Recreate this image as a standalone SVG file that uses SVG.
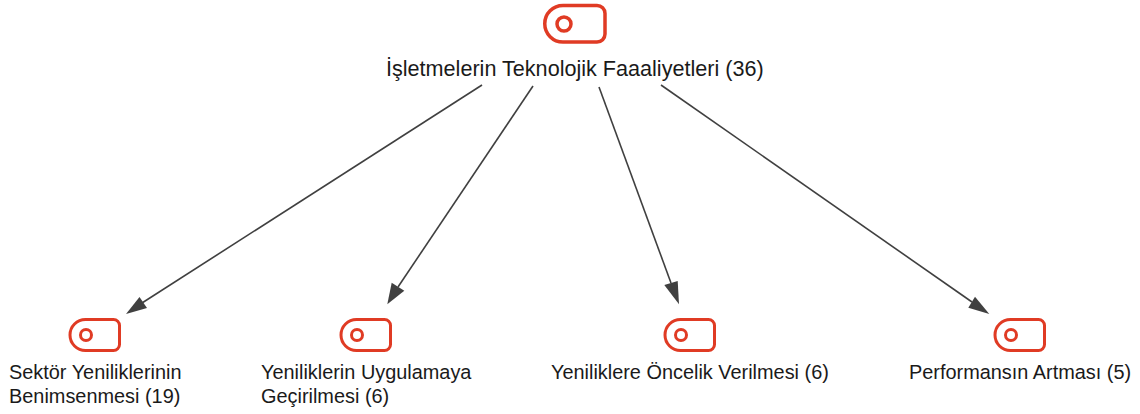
<svg xmlns="http://www.w3.org/2000/svg" width="1140" height="414" viewBox="0 0 1140 414">
<defs>
<style>
.shape{fill:none;stroke:#e03b24;stroke-width:3.5}
.small{stroke-width:3}
.lbl{font-family:"Liberation Sans",Arial,sans-serif;font-size:19.900px;fill:#1a1a1a}
.top{font-size:21.600px}
.conn{fill:none;stroke:#404040;stroke-width:1.6}
.head{fill:#404040}
</style>
</defs>
<rect width="1140" height="414" fill="#ffffff"/>
<g id="connectors">
<line class="conn" x1="482" y1="85" x2="142" y2="303"/>
<polygon class="head" points="126,314 139.500,297 147,308"/>
<line class="conn" x1="533" y1="86" x2="398" y2="287"/>
<polygon class="head" points="387.300,304.300 391.700,282.700 404.300,290.700"/>
<line class="conn" x1="599" y1="87" x2="671" y2="283"/>
<polygon class="head" points="679,304.300 664.300,285 677.700,281"/>
<line class="conn" x1="661" y1="85" x2="972" y2="302"/>
<polygon class="head" points="989.300,314 968.300,307.700 975,296.700"/>
</g>
<g id="root">
<path class="shape" d="M563 5.500H597A8 8 0 0 1 605 13.500V34A8 8 0 0 1 597 42H563A18.250 18.250 0 0 1 563 5.500Z"/>
<circle class="shape" cx="564" cy="24" r="7"/>
<text class="lbl top" x="386" y="75.500">İşletmelerin Teknolojik Faaaliyetleri (36)</text>
</g>
<g id="node1">
<path class="shape small" d="M85.500 319.500H113.500A6 6 0 0 1 119.500 325.500V344.500A6 6 0 0 1 113.500 350.500H85.500A15.500 15.500 0 0 1 85.500 319.500Z"/>
<circle class="shape small" cx="86" cy="335" r="5.500"/>
<text class="lbl" x="9" y="379">Sektör Yeniliklerinin</text>
<text class="lbl" x="9" y="403">Benimsenmesi (19)</text>
</g>
<g id="node2">
<path class="shape small" d="M356.500 319.500H384.500A6 6 0 0 1 390.500 325.500V344.500A6 6 0 0 1 384.500 350.500H356.500A15.500 15.500 0 0 1 356.500 319.500Z"/>
<circle class="shape small" cx="357" cy="335" r="5.500"/>
<text class="lbl" x="261" y="379">Yeniliklerin Uygulamaya</text>
<text class="lbl" x="261" y="403">Geçirilmesi (6)</text>
</g>
<g id="node3">
<path class="shape small" d="M680.500 319.500H708.500A6 6 0 0 1 714.500 325.500V344.500A6 6 0 0 1 708.500 350.500H680.500A15.500 15.500 0 0 1 680.500 319.500Z"/>
<circle class="shape small" cx="681" cy="335" r="5.500"/>
<text class="lbl" x="551" y="379">Yeniliklere Öncelik Verilmesi (6)</text>
</g>
<g id="node4">
<path class="shape small" d="M1010.500 319.500H1038.500A6 6 0 0 1 1044.500 325.500V344.500A6 6 0 0 1 1038.500 350.500H1010.500A15.500 15.500 0 0 1 1010.500 319.500Z"/>
<circle class="shape small" cx="1011" cy="335" r="5.500"/>
<text class="lbl" x="909" y="379">Performansın Artması (5)</text>
</g>
</svg>
